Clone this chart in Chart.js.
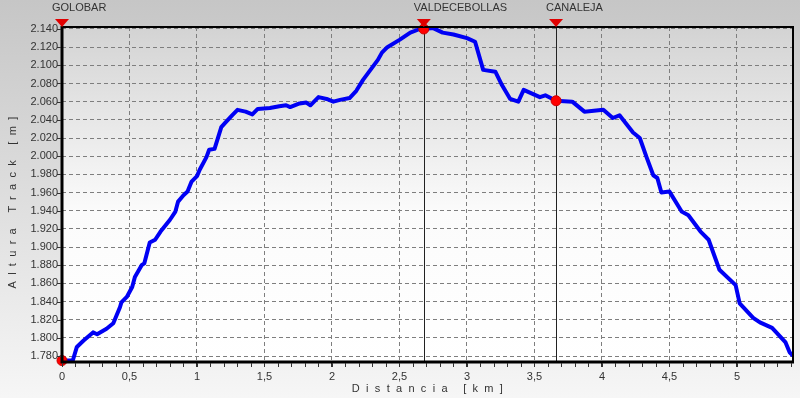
<!DOCTYPE html>
<html>
<head>
<meta charset="utf-8">
<script src="https://cdn.jsdelivr.net/npm/chart.js@4/dist/chart.umd.min.js"></script>
<style>
  html, body { margin: 0; padding: 0; background: #e0e0e0; }
  #wrap { width: 800px; height: 398px; position: relative; }
</style>
</head>
<body>
<div id="wrap"><canvas id="c" width="800" height="398"></canvas></div>
<script>
// ---- data ----
const distanceKm = [0.00,0.08,0.11,0.16,0.23,0.26,0.33,0.38,0.43,0.44,0.48,0.52,0.54,0.59,0.61,0.65,0.69,0.73,0.80,0.84,0.86,0.90,0.93,0.96,1.00,1.02,1.07,1.09,1.13,1.18,1.21,1.26,1.30,1.36,1.41,1.45,1.54,1.61,1.66,1.69,1.76,1.81,1.84,1.90,1.96,2.01,2.06,2.13,2.18,2.23,2.30,2.34,2.37,2.41,2.50,2.58,2.65,2.68,2.75,2.82,2.90,3.00,3.06,3.12,3.21,3.26,3.32,3.38,3.42,3.54,3.58,3.66,3.78,3.87,4.01,4.08,4.13,4.23,4.28,4.33,4.38,4.41,4.44,4.50,4.59,4.64,4.73,4.79,4.87,4.99,5.02,5.12,5.17,5.26,5.36,5.39,5.41];
const elevationM = [1775,1775,1790,1797,1806,1804,1810,1816,1834,1839,1845,1856,1867,1880,1882,1905,1908,1917,1930,1939,1950,1957,1961,1972,1978,1985,1999,2007,2008,2032,2037,2045,2051,2049,2046,2052,2053,2055,2056,2054,2058,2059,2056,2065,2063,2060,2062,2064,2072,2084,2098,2106,2114,2120,2128,2136,2140,2140,2141,2136,2134,2130,2126,2095,2093,2078,2063,2060,2073,2065,2067,2061,2060,2049,2051,2042,2045,2026,2020,1999,1979,1976,1960,1961,1939,1935,1917,1908,1875,1858,1838,1822,1817,1811,1795,1784,1781];

const waypointNames = ["GOLOBAR","VALDECEBOLLAS","CANALEJA"];
const waypointKm    = [0, 2.68, 3.66];
const waypointElev  = [1775, 2140, 2061];

const xTickValues = [0,0.5,1,1.5,2,2.5,3,3.5,4,4.5,5];
const yTickValues = [1780,1800,1820,1840,1860,1880,1900,1920,1940,1960,1980,2000,2020,2040,2060,2080,2100,2120,2140];
const xMinorStep = 0.1;

const xTitle = "Distancia [km]";
const yTitle = "Altura Track [m]";

// ---- build chart ----
const FONT = "'Liberation Sans', Arial, sans-serif";
const profile = distanceKm.map((d, i) => ({ x: d, y: elevationM[i] }));
const wpPoints = waypointKm.map((d, i) => ({ x: d, y: waypointElev[i] }));

const decorPlugin = {
  id: 'decor',
  beforeDraw(chart) {
    const { ctx, chartArea: a, width, height } = chart;
    ctx.save();
    let g = ctx.createLinearGradient(0, 0, 0, height);
    g.addColorStop(0, '#c6c6c6');
    g.addColorStop(1, '#f6f6f6');
    ctx.fillStyle = g;
    ctx.fillRect(0, 0, width, height);
    g = ctx.createLinearGradient(0, a.top, 0, a.bottom);
    g.addColorStop(0, '#d3d3d3');
    g.addColorStop(0.55, '#fbfbfb');
    g.addColorStop(1, '#ffffff');
    ctx.fillStyle = g;
    ctx.fillRect(a.left, a.top, a.right - a.left, a.bottom - a.top);
    ctx.restore();
  },
  beforeDatasetsDraw(chart) {
    const { ctx, chartArea: a, scales: { x } } = chart;
    ctx.save();
    ctx.strokeStyle = '#222';
    ctx.lineWidth = 1;
    for (let i = 1; i < waypointKm.length; i++) {
      const px = Math.round(x.getPixelForValue(waypointKm[i])) + 0.5;
      ctx.beginPath();
      ctx.moveTo(px, a.top);
      ctx.lineTo(px, a.bottom);
      ctx.stroke();
    }
    ctx.restore();
  },
  afterDraw(chart) {
    const { ctx, chartArea: a, scales: { x, y } } = chart;
    ctx.save();
    // frame
    ctx.strokeStyle = '#000';
    ctx.lineWidth = 2;
    ctx.beginPath();
    ctx.moveTo(a.left, a.top); ctx.lineTo(a.right, a.top); ctx.lineTo(a.right, a.bottom);
    ctx.stroke();
    ctx.lineWidth = 3;
    ctx.beginPath();
    ctx.moveTo(a.left, a.top - 1); ctx.lineTo(a.left, a.bottom); ctx.lineTo(a.right + 1, a.bottom);
    ctx.stroke();
    // minor x ticks
    ctx.lineWidth = 1;
    ctx.strokeStyle = '#333';
    for (let v = 0; v <= x.max + 1e-9; v += xMinorStep) {
      const px = Math.round(x.getPixelForValue(v)) + 0.5;
      ctx.beginPath();
      ctx.moveTo(px, a.bottom + 1);
      ctx.lineTo(px, a.bottom + 5);
      ctx.stroke();
    }
    // y ticks
    yTickValues.forEach(v => {
      const py = Math.round(y.getPixelForValue(v)) + 0.5;
      ctx.beginPath();
      ctx.moveTo(a.left - 5, py);
      ctx.lineTo(a.left - 1, py);
      ctx.stroke();
    });
    // waypoint triangles and labels
    ctx.font = '11px ' + FONT;
    ctx.textBaseline = 'middle';
    ctx.textAlign = 'left';
    waypointKm.forEach((d, i) => {
      const px = x.getPixelForValue(d);
      ctx.fillStyle = '#e00000';
      ctx.beginPath();
      ctx.moveTo(px - 7, a.top - 8);
      ctx.lineTo(px + 7, a.top - 8);
      ctx.lineTo(px, a.top);
      ctx.closePath();
      ctx.fill();
      ctx.fillStyle = '#333';
      ctx.fillText(waypointNames[i], px - 10, 8);
    });
    // axis titles with letter spacing
    ctx.fillStyle = '#333';
    ctx.font = '11px ' + FONT;
    ctx.letterSpacing = '6.3px';
    ctx.textAlign = 'center';
    ctx.fillText(xTitle, (a.left + a.right) / 2 + 3, 389);
    ctx.translate(13, (a.top + a.bottom) / 2 + 8);
    ctx.rotate(-Math.PI / 2);
    ctx.fillText(yTitle, 3, 0);
    ctx.restore();
  }
};

new Chart(document.getElementById('c'), {
  type: 'line',
  data: {
    datasets: [
      {
        data: wpPoints,
        showLine: false,
        pointRadius: 5,
        pointBackgroundColor: '#ff0000',
        pointBorderColor: '#cc0000',
        pointBorderWidth: 1,
        clip: false,
        order: 0
      },
      {
        data: profile,
        borderColor: '#0000f4',
        borderWidth: 4,
        pointRadius: 0,
        tension: 0,
        fill: false,
        borderJoinStyle: 'round',
        borderCapStyle: 'round',
        order: 1
      }
    ]
  },
  options: {
    responsive: false,
    animation: false,
    events: [],
    layout: { padding: { left: 0, right: 7, top: 27, bottom: 0 } },
    plugins: { legend: { display: false }, tooltip: { enabled: false }, title: { display: false } },
    scales: {
      x: {
        type: 'linear',
        min: 0,
        max: 5.415,
        afterBuildTicks(s) { s.ticks = xTickValues.map(v => ({ value: v })); },
        afterFit(s) { s.height = 36; },
        ticks: {
          color: '#333',
          font: { family: FONT, size: 11 },
          padding: 3,
          maxRotation: 0,
          autoSkip: false,
          callback: v => String(v).replace('.', ',')
        },
        grid: { color: '#7e7e7e', lineWidth: 1, drawTicks: true, tickLength: 5, tickColor: '#333' },
        border: { display: false, dash: [4, 3] }
      },
      y: {
        type: 'linear',
        min: 1773.4,
        max: 2142.2,
        afterBuildTicks(s) { s.ticks = yTickValues.map(v => ({ value: v })); },
        afterFit(s) { s.width = 62; },
        ticks: {
          color: '#333',
          font: { family: FONT, size: 11 },
          padding: 4,
          autoSkip: false,
          callback: v => (v / 1000).toFixed(3)
        },
        grid: { color: '#7e7e7e', lineWidth: 1, drawTicks: false },
        border: { display: false, dash: [4, 3] }
      }
    }
  },
  plugins: [decorPlugin]
});
</script>
</body>
</html>
